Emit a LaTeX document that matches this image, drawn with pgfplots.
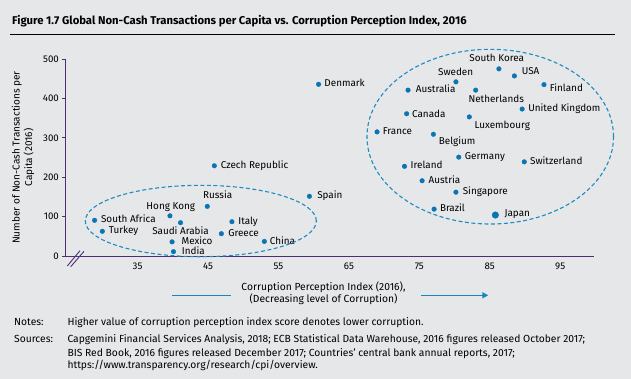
\documentclass[border=0pt]{standalone}
\usepackage{fontspec}
\setmainfont{Fira Sans}
\usepackage{pgfplots}
\usepackage{pgfplotstable}
\pgfplotsset{compat=1.18}
\usetikzlibrary{arrows.meta}
\definecolor{bgc}{HTML}{E6E7E9}
\definecolor{dotc}{HTML}{0A75B3}
\definecolor{dashc}{HTML}{1E8BC3}
\definecolor{axc}{HTML}{4F2D73}
\definecolor{arrc}{HTML}{1A86C1}

\pgfplotstableread[col sep=comma]{
x,y,name
28.9,90.6,South Africa
30.0,62.7,Turkey
39.6,102,Hong Kong
41.1,84.5,Saudi Arabia
44.9,126,Russia
39.9,36,Mexico
40.1,11,India
48.4,87,Italy
46.9,56.6,Greece
53.0,37,China
45.9,229,Czech Republic
59.4,151.5,Spain
60.7,435.8,Denmark
86.3,475,South Korea
88.5,457,USA
80.2,442,Sweden
73.4,421,Australia
83.0,421,Netherlands
92.7,435,Finland
89.6,373,United Kingdom
73.2,361,Canada
82.1,353,Luxembourg
69.0,315,France
77.0,309,Belgium
80.6,251,Germany
89.9,239,Switzerland
72.9,227.6,Ireland
75.4,191,Austria
80.2,162,Singapore
77.1,119,Brazil
}\cpidata

\pgfplotstableread[col sep=comma]{
x,y,name
85.8,104,Japan
}\japdata

\newcommand{\lblfont}{\fontsize{9.9bp}{11.8bp}\selectfont}
\newcommand{\tickfont}{\fontsize{9.7bp}{11.5bp}\selectfont}
% label: x, y, anchor, dx, dy, text
\newcommand{\lbl}[6]{\node[anchor=#3, xshift=#4bp, yshift=#5bp, inner sep=0pt, text=black,
   font=\lblfont, text height=7.2bp, text depth=2bp] at (axis cs:#1,#2) {#6};}

\begin{document}
\begin{tikzpicture}
\fill[bgc] (0,0) rectangle (631bp,-379bp);
\useasboundingbox (0,0) rectangle (631bp,-379bp);

% title
\node[anchor=west, inner sep=0pt, font=\fontsize{11.3bp}{13bp}\selectfont\bfseries] at (12bp,-20.7bp)
  {Figure 1.7 Global Non-Cash Transactions per Capita vs. Corruption Perception Index, 2016};
\draw[black, line width=1bp] (10bp,-34.3bp) -- (614.5bp,-34.3bp);

\begin{axis}[
  at={(65.7bp,-256bp)}, anchor=south west,
  scale only axis, width=528.3bp, height=197bp,
  xmin=24.8, xmax=99.8, ymin=0, ymax=500,
  axis lines*=left,
  axis line style={axc, line width=1bp},
  clip=false,
  xtick={35,45,...,95}, ytick={0,100,...,500},
  xtick style={draw=none},
  ytick style={axc, line width=0.8bp},
  tick align=outside, major tick length=3.3bp,
  ticklabel style={font=\tickfont, text=black},
  /pgf/number format/assume math mode=true,
]
\addplot[color=dotc, only marks, mark=*, mark size=2.3bp, mark options={draw=none, fill=dotc}]
  table[x=x, y=y] {\cpidata};
\addplot[color=dotc, only marks, mark=*, mark size=3.3bp, mark options={draw=none, fill=dotc}]
  table[x=x, y=y] {\japdata};

\lbl{28.9}{90.6}{west}{6.3}{0}{South Africa}
\lbl{30.0}{62.7}{west}{6.3}{0}{Turkey}
\lbl{39.6}{102}{center}{0.8}{9.3}{Hong Kong}
\lbl{41.1}{84.5}{center}{0}{-9}{Saudi Arabia}
\lbl{44.9}{126}{west}{-4.3}{10}{Russia}
\lbl{39.9}{36}{west}{9.3}{0}{Mexico}
\lbl{40.1}{11}{west}{8.3}{0}{India}
\lbl{48.4}{87}{west}{6.3}{0}{Italy}
\lbl{46.9}{56.6}{west}{6.7}{0}{Greece}
\lbl{53.0}{37}{west}{5.3}{0}{China}
\lbl{45.9}{229}{west}{6.3}{0}{Czech Republic}
\lbl{59.4}{151.5}{west}{7.7}{0}{Spain}
\lbl{60.7}{435.8}{west}{5.7}{0}{Denmark}
\lbl{86.3}{475}{center}{-2.2}{10.3}{South Korea}
\lbl{88.5}{457}{west}{7.3}{3.7}{USA}
\lbl{80.2}{442}{center}{-0.3}{8.7}{Sweden}
\lbl{73.4}{421}{west}{7.7}{0}{Australia}
\lbl{83.0}{421}{west}{-7.3}{-9.3}{Netherlands}
\lbl{92.7}{435}{west}{5.7}{-4.7}{Finland}
\lbl{89.6}{373}{west}{6}{0}{United Kingdom}
\lbl{73.2}{361}{west}{5.3}{-0.7}{Canada}
\lbl{82.1}{353}{west}{5}{-9.3}{Luxembourg}
\lbl{69.0}{315}{west}{5.7}{0}{France}
\lbl{77.0}{309}{west}{5.3}{-8}{Belgium}
\lbl{80.6}{251}{west}{6}{0}{Germany}
\lbl{89.9}{239}{west}{5.7}{0}{Switzerland}
\lbl{72.9}{227.6}{west}{6}{0}{Ireland}
\lbl{75.4}{191}{west}{6.3}{0}{Austria}
\lbl{80.2}{162}{west}{6.7}{0}{Singapore}
\lbl{77.1}{119}{west}{5.7}{0}{Brazil}
\lbl{85.8}{104}{west}{9}{0.7}{Japan}

\draw[dashc, line width=1.1bp, dash pattern=on 4bp off 2.5bp]
  (axis cs:85.07,302.9) ellipse [x radius=17.5, y radius=221.7];
\draw[dashc, line width=1.1bp, dash pattern=on 4bp off 2.5bp]
  (axis cs:43.98,88.8) ellipse [x radius=16.4, y radius=90.6];
\end{axis}

% axis break
\draw[axc, line width=0.9bp] (67.3bp,-266bp) -- (80bp,-250.7bp);
\draw[axc, line width=0.9bp] (70.7bp,-266.7bp) -- (84bp,-251.3bp);

% y label
\node[rotate=90, align=center, inner sep=0pt, font=\fontsize{10bp}{12.6bp}\selectfont] at (23bp,-157.5bp)
  {Number of Non-Cash Transactions per\\Capita (2016)};

% x label
\node[align=center, inner sep=0pt, font=\fontsize{10.3bp}{11.6bp}\selectfont] at (323.5bp,-293.5bp)
  {Corruption Perception Index (2016),\\(Decreasing level of Corruption)};
\draw[arrc, line width=1.3bp] (171.7bp,-295.3bp) -- (231bp,-295.3bp);
\draw[arrc, line width=1.3bp, -{Triangle[length=6bp, width=6bp]}] (421bp,-295.3bp) -- (488.3bp,-295.3bp);

% notes
\begin{scope}[every node/.style={anchor=base west, inner sep=0pt, font=\fontsize{10.3bp}{13bp}\selectfont}]
\node at (14bp,-325bp) {Notes:};
\node at (67.3bp,-325bp) {Higher value of corruption perception index score denotes lower corruption.};
\node at (14bp,-342.6bp) {Sources:};
\node at (67.3bp,-342.6bp) {Capgemini Financial Services Analysis, 2018; ECB Statistical Data Warehouse, 2016 figures released October 2017;};
\node at (67.3bp,-356bp) {BIS Red Book, 2016 figures released December 2017; Countries' central bank annual reports, 2017;};
\node at (67.3bp,-368.3bp) {https://www.transparency.org/research/cpi/overview.};
\end{scope}
\end{tikzpicture}
\end{document}
